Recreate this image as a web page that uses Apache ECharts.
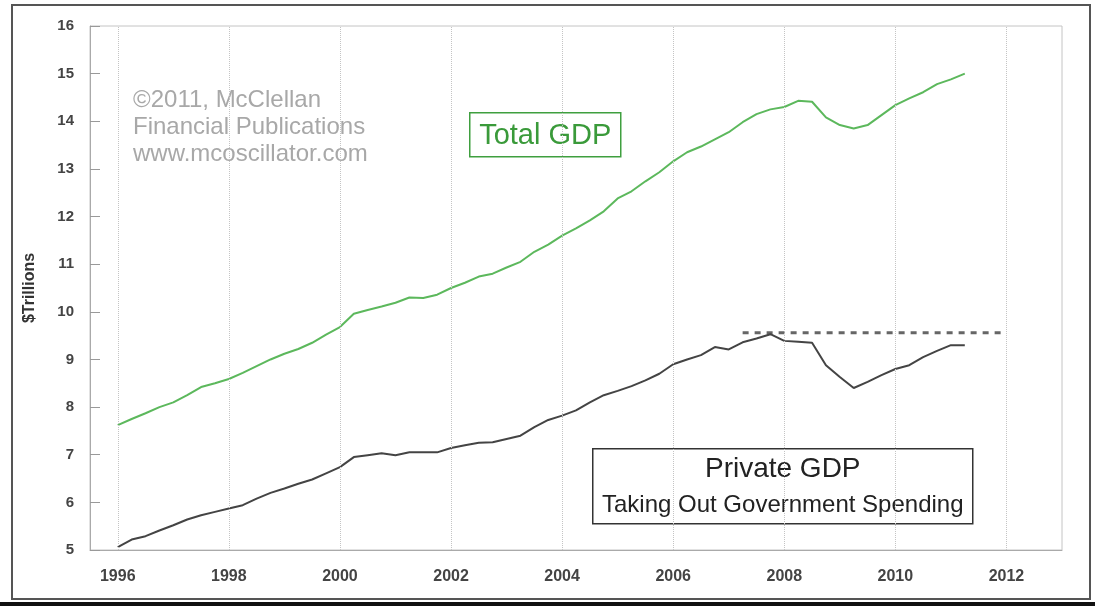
<!DOCTYPE html>
<html>
<head>
<meta charset="utf-8">
<style>
    html, body { margin: 0; padding: 0; background: #fff; }
    #gdp { width: 1095px; height: 606px; }
</style>
<script src="https://cdn.jsdelivr.net/npm/echarts@6/dist/echarts.min.js"></script>
</head>
<body>
<div id="gdp"></div>
<script>
// quarterly readings, first quarter of 1996 onwards ($ trillions)
var startYear = 1996;

var totalGdp = [
    7.62, 7.75, 7.87, 8.00, 8.10, 8.25, 8.42, 8.50,
    8.59, 8.72, 8.86, 9.00, 9.12, 9.22, 9.35, 9.52,
    9.68, 9.96, 10.04, 10.11, 10.19, 10.30, 10.29, 10.36,
    10.50, 10.61, 10.74, 10.80, 10.93, 11.05, 11.26, 11.41,
    11.60, 11.75, 11.92, 12.11, 12.38, 12.53, 12.74, 12.93,
    13.16, 13.35, 13.47, 13.62, 13.77, 13.98, 14.15, 14.25,
    14.30, 14.43, 14.41, 14.08, 13.92, 13.85, 13.92, 14.13,
    14.34, 14.48, 14.61, 14.78, 14.88, 15.00
];

var privateGdp = [
    5.06, 5.22, 5.29, 5.41, 5.52, 5.64, 5.73, 5.80,
    5.87, 5.94, 6.08, 6.20, 6.29, 6.39, 6.48, 6.61,
    6.74, 6.95, 6.99, 7.03, 6.99, 7.05, 7.05, 7.05,
    7.14, 7.20, 7.25, 7.26, 7.33, 7.40, 7.58, 7.73,
    7.82, 7.93, 8.10, 8.25, 8.34, 8.44, 8.56, 8.70,
    8.90, 9.00, 9.09, 9.26, 9.21, 9.36, 9.44, 9.53,
    9.39, 9.37, 9.35, 8.88, 8.63, 8.40, 8.53, 8.67,
    8.80, 8.88, 9.05, 9.18, 9.30, 9.30
];

// previous private GDP high, drawn as a dashed reference
var peakYears = [2007.25, 2011.9];
var peakLevel = 9.56;

var gridYears = [1996, 1998, 2000, 2002, 2004, 2006, 2008, 2010, 2012];

var font = "'Liberation Sans', Arial, sans-serif";

function toPoints(values) {
    return values.map(function (v, i) {
        return [startYear + i / 4, v];
    });
}

var gdpChart = echarts.init(document.getElementById('gdp'));

var option = {
    animation: false,
    backgroundColor: '#fff',
    grid: {
        left: 90,
        top: 26,
        right: 33,
        bottom: 56,
        show: true,
        borderColor: '#c4c4c4',
        borderWidth: 1,
        backgroundColor: '#fff'
    },
    xAxis: {
        type: 'value',
        min: 1995.5,
        max: 2013,
        interval: 0.5,
        axisLine: { lineStyle: { color: '#aaa' } },
        axisTick: { show: false },
        splitLine: { show: false },
        axisLabel: {
            margin: 19,
            fontFamily: font,
            fontSize: 16,
            fontWeight: 'bold',
            color: '#444'
            ,
            formatter: function (v) {
                return v % 2 === 0 ? String(v) : '';
            }
        }
    },
    yAxis: {
        type: 'value',
        min: 5,
        max: 16,
        interval: 1,
        name: '$Trillions',
        nameLocation: 'middle',
        nameGap: 52,
        nameTextStyle: {
            fontFamily: font,
            fontSize: 16,
            fontWeight: 'bold',
            color: '#333'
        },
        axisLine: { show: true, lineStyle: { color: '#aaa' } },
        axisTick: { show: true, inside: true, length: 10, lineStyle: { color: '#999' } },
        splitLine: { show: false },
        axisLabel: {
            margin: 16,
            fontFamily: font,
            fontSize: 15,
            fontWeight: 'bold',
            color: '#444'
        }
    },
    graphic: [
        {
            type: 'rect',
            shape: { x: 12, y: 5, width: 1078, height: 594 },
            style: { fill: 'none', stroke: '#555', lineWidth: 2 },
            silent: true
        },
        {
            type: 'rect',
            shape: { x: 0, y: 602, width: 1095, height: 4 },
            style: { fill: '#111' },
            silent: true
        },
        {
            type: 'text',
            left: 133,
            top: 87,
            style: {
                text: '©2011, McClellan\nFinancial Publications\nwww.mcoscillator.com',
                fontFamily: font,
                fontSize: 24,
                lineHeight: 27,
                fill: '#a8a8a8'
            },
            silent: true
        },
        {
            type: 'group',
            left: 469,
            top: 112,
            children: [
                {
                    type: 'rect',
                    shape: { x: 0, y: 0, width: 151, height: 44 },
                    style: { fill: '#fff', stroke: '#3f9f3f', lineWidth: 1.5 }
                },
                {
                    type: 'text',
                    x: 75.5,
                    y: 23,
                    style: {
                        text: 'Total GDP',
                        fontFamily: font,
                        fontSize: 29,
                        fill: '#3a9a3a',
                        align: 'center',
                        verticalAlign: 'middle'
                    }
                }
            ]
        },
        {
            type: 'group',
            left: 592,
            top: 448,
            children: [
                {
                    type: 'rect',
                    shape: { x: 0, y: 0, width: 380, height: 75 },
                    style: { fill: '#fff', stroke: '#333', lineWidth: 1.5 }
                },
                {
                    type: 'text',
                    x: 190,
                    y: 21,
                    style: {
                        text: 'Private GDP',
                        fontFamily: font,
                        fontSize: 28,
                        fill: '#222',
                        align: 'center',
                        verticalAlign: 'middle'
                    }
                },
                {
                    type: 'text',
                    x: 190,
                    y: 57,
                    style: {
                        text: 'Taking Out Government Spending',
                        fontFamily: font,
                        fontSize: 24,
                        fill: '#222',
                        align: 'center',
                        verticalAlign: 'middle'
                    }
                }
            ]
        }
    ],
    series: [
        {
            name: 'Total GDP',
            type: 'line',
            data: toPoints(totalGdp),
            showSymbol: false,
            lineStyle: { color: '#5cb85c', width: 2 },
            z: 3,
            markLine: {
                silent: true,
                symbol: 'none',
                label: { show: false },
                lineStyle: { color: '#c4c4c4', type: 'dotted', width: 1 },
                data: gridYears.map(function (y) { return { xAxis: y }; })
            }
        },
        {
            name: 'Private GDP',
            type: 'line',
            data: toPoints(privateGdp),
            showSymbol: false,
            lineStyle: { color: '#444', width: 2 },
            z: 3
        },
        {
            name: 'Prior high',
            type: 'line',
            data: peakYears.map(function (y) { return [y, peakLevel]; }),
            showSymbol: false,
            lineStyle: { color: '#666', width: 3, type: [6, 6] },
            z: 2
        }
    ]
};

gdpChart.setOption(option);
</script>
</body>
</html>
